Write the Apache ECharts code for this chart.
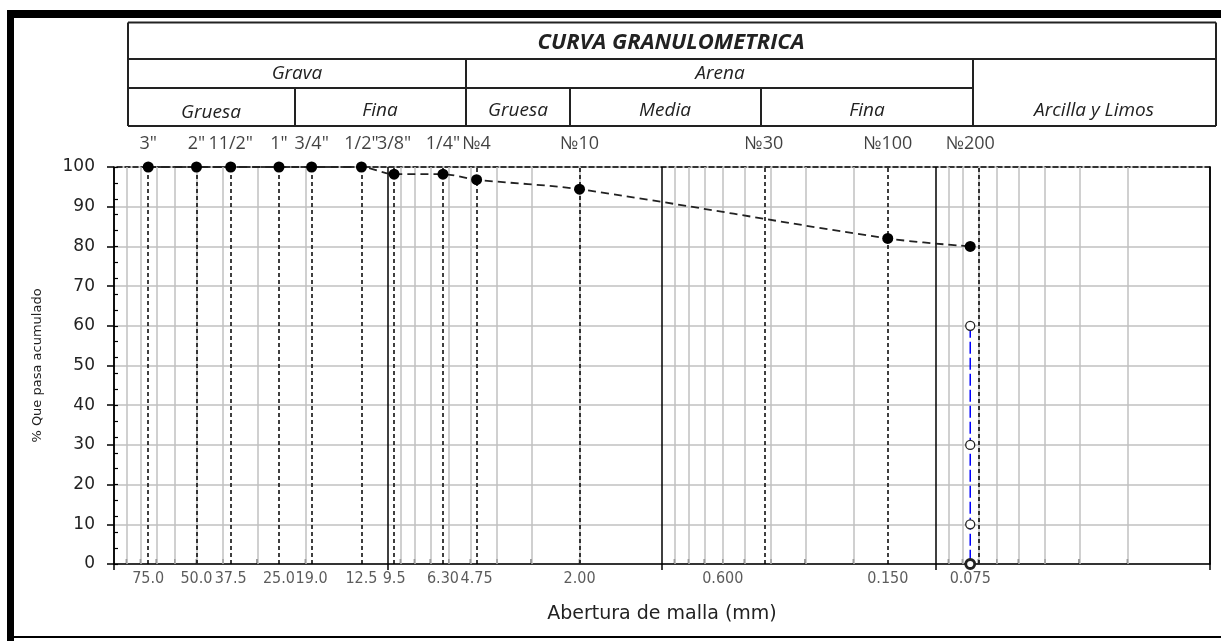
<!DOCTYPE html>
<html>
<head>
<meta charset="utf-8">
<script src="https://cdn.jsdelivr.net/npm/echarts@6/dist/echarts.min.js"></script>
<style>
  html, body { margin: 0; padding: 0; background: #fff; }
  #chart { width: 1221px; height: 641px; }
</style>
</head>
<body>
<div id="chart"></div>
<script>
// Sieves: names and the vertical reference lines (mm) where they are drawn
const sieveNames = ['3"', '2"', '11/2"', '1"', '3/4"', '1/2"', '3/8"', '1/4"', '№4', '№10', '№30', '№100', '№200'];
const sieveLines = [75, 50, 37.5, 25, 19, 12.5, 9.5, 6.3, 4.75, 2.0, 0.425, 0.15, 0.075];
// Opening labels under the axis (each sits at its own value)
const sizeLabels = ['75.0', '50.0', '37.5', '25.0', '19.0', '12.5', '9.5', '6.30', '4.75', '2.00', '0.600', '0.150', '0.075'];

// Sample: opening (mm) and cumulative percent passing
const sampleSizes = [75, 50, 37.5, 25, 19, 12.5, 9.5, 6.3, 4.75, 2.0, 0.15, 0.075];
const percentPassing = [100, 100, 100, 100, 100, 100, 98.2, 98.2, 96.8, 94.4, 82.0, 80.0];

// Reference marks on the No.200 sieve
const finesSize = 0.075;
const finesLevels = [60, 30, 10, 0];

// Axis ranges
const xMin = 0.01, xMax = 100;
const yMin = 0, yMax = 100, yStep = 10, yMinorStep = 4;

// Log-paper grid: 2..9 within each decade
const decades = [0.01, 0.1, 1, 10];
const decadeSteps = [2, 3, 4, 5, 6, 7, 8, 9];
const logGrid = [];
decades.forEach(d => decadeSteps.forEach(m => logGrid.push(+(m * d).toPrecision(3))));

const chart = echarts.init(document.getElementById('chart'), null, { renderer: 'canvas' });

const headerFont = '"Open Sans", "Noto Sans", sans-serif';
const numFont = '"DejaVu Sans", sans-serif';
const narrowFont = '"DejaVu Sans Condensed", "Liberation Sans Narrow", "DejaVu Sans", sans-serif';
const lineCol = '#222';

// Header table: horizontal and vertical rules
const hRules = [
  [128, 22.5, 1216], [128, 59, 1216], [128, 88, 973], [128, 126, 1216]
];
const vRules = [
  [128, 22.5, 126], [1216, 22.5, 126], [466, 59, 126], [973, 59, 126],
  [295, 88, 126], [570, 88, 126], [761, 88, 126]
];
const headerTexts = [
  ['CURVA GRANULOMETRICA', 671, 43, 'italic bold 22px'],
  ['Grava', 297, 74, 'italic 19px'],
  ['Arena', 720, 74, 'italic 19px'],
  ['Gruesa', 211, 113, 'italic 19px'],
  ['Fina', 380, 111, 'italic 19px'],
  ['Gruesa', 518, 111, 'italic 19px'],
  ['Media', 665, 111, 'italic 19px'],
  ['Fina', 867, 111, 'italic 19px'],
  ['Arcilla y Limos', 1094, 111, 'italic 19px']
];

const graphic = [];
// outer frame
graphic.push({ type: 'rect', shape: { x: 7, y: 10, width: 7, height: 631 }, style: { fill: '#000' }, silent: true });
graphic.push({ type: 'rect', shape: { x: 7, y: 10, width: 1214, height: 8 }, style: { fill: '#000' }, silent: true });
graphic.push({ type: 'rect', shape: { x: 14, y: 636, width: 1207, height: 2 }, style: { fill: '#000' }, silent: true });
hRules.forEach(r => graphic.push({
  type: 'line', silent: true,
  shape: { x1: r[0], y1: r[1], x2: r[2], y2: r[1] },
  style: { stroke: lineCol, lineWidth: 2 }
}));
vRules.forEach(r => graphic.push({
  type: 'line', silent: true,
  shape: { x1: r[0], y1: r[1], x2: r[0], y2: r[2] },
  style: { stroke: lineCol, lineWidth: 2 }
}));
headerTexts.forEach(t => graphic.push({
  type: 'text', silent: true, x: t[1], y: t[2],
  style: {
    text: t[0], font: t[3] + ' ' + headerFont, fill: '#222',
    align: 'center', verticalAlign: 'middle',
    textAlign: 'center', textVerticalAlign: 'middle'
  }
}));

const noEmph = { disabled: true };

const option = {
  animation: false,
  backgroundColor: '#fff',
  graphic: graphic,
  grid: { left: 114, right: 11, top: 167, bottom: 77, containLabel: false, outerBoundsMode: 'none' },
  xAxis: [
    {
      type: 'log', logBase: 10, min: xMin, max: xMax, inverse: true, position: 'bottom',
      axisLine: { show: true, onZero: false, lineStyle: { color: '#000', width: 1.5 } },
      axisTick: { show: true, inside: false, length: 6, lineStyle: { color: '#000', width: 1.5 } },
      axisLabel: { show: false },
      minorTick: { show: false },
      splitLine: { show: true, lineStyle: { color: '#000', width: 1.5 } },
      name: 'Abertura de malla (mm)', nameLocation: 'middle', nameGap: 41,
      nameTextStyle: { fontFamily: numFont, fontSize: 19, color: '#222' }
    },
    {
      type: 'log', logBase: 10, min: xMin, max: xMax, inverse: true, position: 'top',
      axisLine: { show: true, onZero: false, lineStyle: { color: '#000', width: 1.5, type: [5, 3] } },
      axisTick: { show: false }, axisLabel: { show: false }, splitLine: { show: false }
    }
  ],
  yAxis: [
    {
      type: 'value', min: yMin, max: yMax, interval: yStep, position: 'left',
      axisLine: { show: true, onZero: false, lineStyle: { color: '#000', width: 1.5 } },
      axisTick: { show: true, inside: false, length: 7, lineStyle: { color: '#000', width: 1.5 } },
      axisLabel: { fontFamily: numFont, fontSize: 17, color: '#222', margin: 19 },
      splitLine: { show: true, lineStyle: { color: '#c0c0c0', width: 1.5 } },
      name: '% Que pasa acumulado', nameLocation: 'middle', nameGap: 70,
      nameTextStyle: { fontFamily: numFont, fontSize: 13, color: '#222' }
    },
    {
      type: 'value', min: yMin, max: yMax, interval: yMinorStep, position: 'left',
      axisLine: { show: false, onZero: false },
      axisTick: { show: true, inside: true, length: 4, lineStyle: { color: '#000', width: 1.2 } },
      axisLabel: { show: false }, splitLine: { show: false }
    },
    {
      type: 'value', min: yMin, max: yMax, position: 'right',
      axisLine: { show: true, onZero: false, lineStyle: { color: '#000', width: 1.5 } },
      axisTick: { show: false }, axisLabel: { show: false }, splitLine: { show: false }
    }
  ],
  series: [
    {
      // opening sizes under the axis; also carries the light log-paper grid
      name: 'aberturas', type: 'scatter', z: 1, silent: true,
      data: sizeLabels.map(s => [Number(s), yMin]),
      symbolSize: 1, itemStyle: { color: 'rgba(0,0,0,0)' },
      label: {
        show: true, position: 'bottom', distance: 6,
        fontFamily: narrowFont, fontSize: 16, color: '#333',
        formatter: p => sizeLabels[p.dataIndex]
      },
      emphasis: noEmph,
      markLine: {
        silent: true, symbol: 'none', animation: false,
        label: { show: false },
        lineStyle: { color: '#c0c0c0', width: 1.5, type: 'solid' },
        emphasis: noEmph,
        data: logGrid.map(v => ({ xAxis: v }))
      }
    },
    {
      // sieve names above the plot; also carries the dashed sieve lines
      name: 'tamices', type: 'scatter', z: 2, silent: true,
      data: sieveLines.map(v => [v, yMax]),
      symbolSize: 1, itemStyle: { color: 'rgba(0,0,0,0)' },
      label: {
        show: true, position: 'top', distance: 14,
        fontFamily: headerFont, fontSize: 18, color: '#111',
        formatter: p => sieveNames[p.dataIndex]
      },
      emphasis: noEmph,
      markLine: {
        silent: true, symbol: 'none', animation: false,
        label: { show: false },
        lineStyle: { color: '#000', width: 1.5, type: [4, 3] },
        emphasis: noEmph,
        data: sieveLines.map(v => ({ xAxis: v }))
      }
    },
    {
      // small inner ticks of the log scale
      name: 'marcas', type: 'scatter', z: 3, silent: true,
      data: logGrid.map(v => [v, yMin]),
      symbol: 'rect', symbolSize: [1.5, 5], symbolOffset: [0, -2.5],
      itemStyle: { color: '#000' }, emphasis: noEmph
    },
    {
      name: 'Curva granulométrica', type: 'line', z: 5,
      data: sampleSizes.map((v, i) => [v, percentPassing[i]]),
      smooth: 0.3,
      symbol: 'circle', symbolSize: 11,
      itemStyle: { color: '#000' },
      lineStyle: { color: '#222', width: 1.8, type: [8, 5] },
      emphasis: noEmph
    },
    {
      name: 'Finos', type: 'line', z: 6,
      data: finesLevels.map((v, i) => ({
        value: [finesSize, v],
        itemStyle: i === finesLevels.length - 1 ? { borderWidth: 2.8 } : undefined
      })),
      symbol: 'circle', symbolSize: 9, showAllSymbol: true,
      itemStyle: { color: '#fff', borderColor: '#222', borderWidth: 1.3 },
      lineStyle: { color: '#0000ff', width: 1.5, type: [12, 4] },
      emphasis: noEmph
    }
  ]
};

chart.setOption(option);
</script>
</body>
</html>
